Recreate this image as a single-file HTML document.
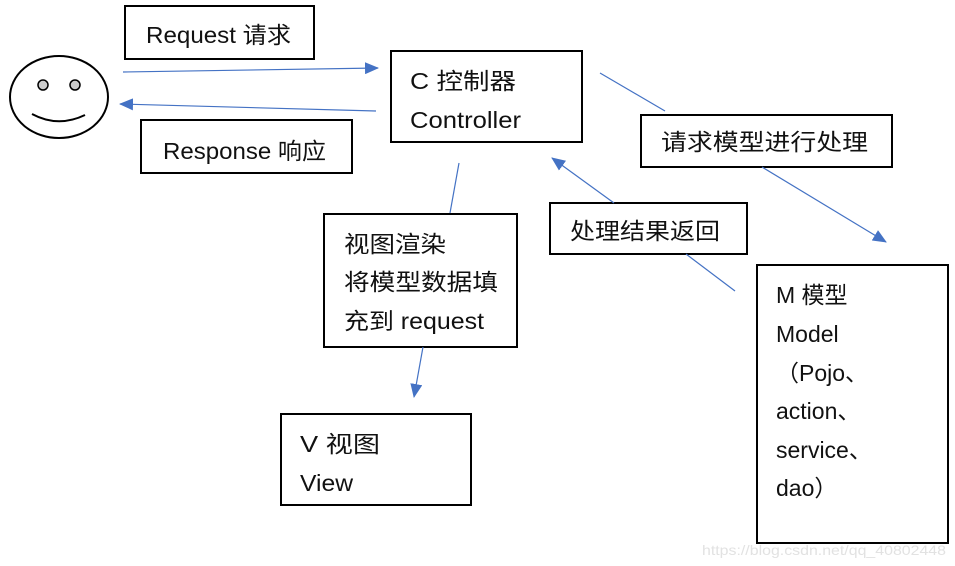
<!DOCTYPE html>
<html><head><meta charset="utf-8"><style>
body{margin:0;background:#fff;}
svg{display:block;font-family:"Liberation Sans","Noto Sans CJK SC",sans-serif;}
text{font-size:23px;fill:#111;}
</style></head><body>
<svg width="955" height="566" viewBox="0 0 955 566">
<defs>
<marker id="b" markerWidth="14" markerHeight="12" refX="13" refY="6" orient="auto" markerUnits="userSpaceOnUse"><path d="M0,0 L14,6 L0,12 z" fill="#4472c4"/></marker></defs>
<g fill="none" stroke="#000" stroke-width="2">
<rect x="125" y="6" width="189" height="53"/>
<rect x="391" y="51" width="191" height="91"/>
<rect x="141" y="120" width="211" height="53"/>
<rect x="641" y="115" width="251" height="52"/>
<rect x="550" y="203" width="197" height="51"/>
<rect x="324" y="214" width="193" height="133"/>
<rect x="281" y="414" width="190" height="91"/>
<rect x="757" y="265" width="191" height="278"/>
<ellipse cx="59" cy="97" rx="49" ry="41"/>
<path d="M32 114 Q58 128 85 115"/>
</g>
<circle cx="43" cy="85" r="5" fill="#ccc" stroke="#000" stroke-width="1.5"/>
<circle cx="75" cy="85" r="5" fill="#ccc" stroke="#000" stroke-width="1.5"/>
<g stroke="#4472c4" stroke-width="1.2" fill="none">
<line x1="123" y1="72" x2="378" y2="68" marker-end="url(#b)"/>
<line x1="376" y1="111" x2="120" y2="104" marker-end="url(#b)"/>
<line x1="600" y1="73" x2="665" y2="111"/>
<line x1="762" y1="167" x2="886" y2="242" marker-end="url(#b)"/>
<line x1="735" y1="291" x2="686" y2="254"/>
<line x1="614" y1="203" x2="552" y2="158" marker-end="url(#b)"/>
<line x1="459" y1="163" x2="450" y2="213"/>
<line x1="423" y1="347" x2="414" y2="397" marker-end="url(#b)"/>
</g>
<text x="146" y="43" textLength="145" lengthAdjust="spacingAndGlyphs">Request 请求</text>
<text x="410" y="89" textLength="106" lengthAdjust="spacingAndGlyphs">C  控制器</text>
<text x="410" y="128" textLength="111" lengthAdjust="spacingAndGlyphs">Controller</text>
<text x="163" y="159" textLength="163" lengthAdjust="spacingAndGlyphs">Response 响应</text>
<text x="661" y="150" textLength="207" lengthAdjust="spacingAndGlyphs">请求模型进行处理</text>
<text x="570" y="239" textLength="150" lengthAdjust="spacingAndGlyphs">处理结果返回</text>
<text x="344" y="252" textLength="102" lengthAdjust="spacingAndGlyphs">视图渲染</text>
<text x="344" y="290" textLength="154" lengthAdjust="spacingAndGlyphs">将模型数据填</text>
<text x="344" y="329" textLength="140" lengthAdjust="spacingAndGlyphs">充到 request</text>
<text x="300" y="452" textLength="80" lengthAdjust="spacingAndGlyphs">V  视图</text>
<text x="300" y="491" textLength="53" lengthAdjust="spacingAndGlyphs">View</text>
<text x="776" y="303">M  模型</text>
<text x="776" y="342">Model</text>
<text x="776" y="381">（Pojo、</text>
<text x="776" y="419">action、</text>
<text x="776" y="458">service、</text>
<text x="776" y="496">dao）</text>
<text x="702" y="555" style="font-size:14px;fill:#e2e2e2" textLength="244" lengthAdjust="spacingAndGlyphs">https://blog.csdn.net/qq_40802448</text>
</svg>
</body></html>
